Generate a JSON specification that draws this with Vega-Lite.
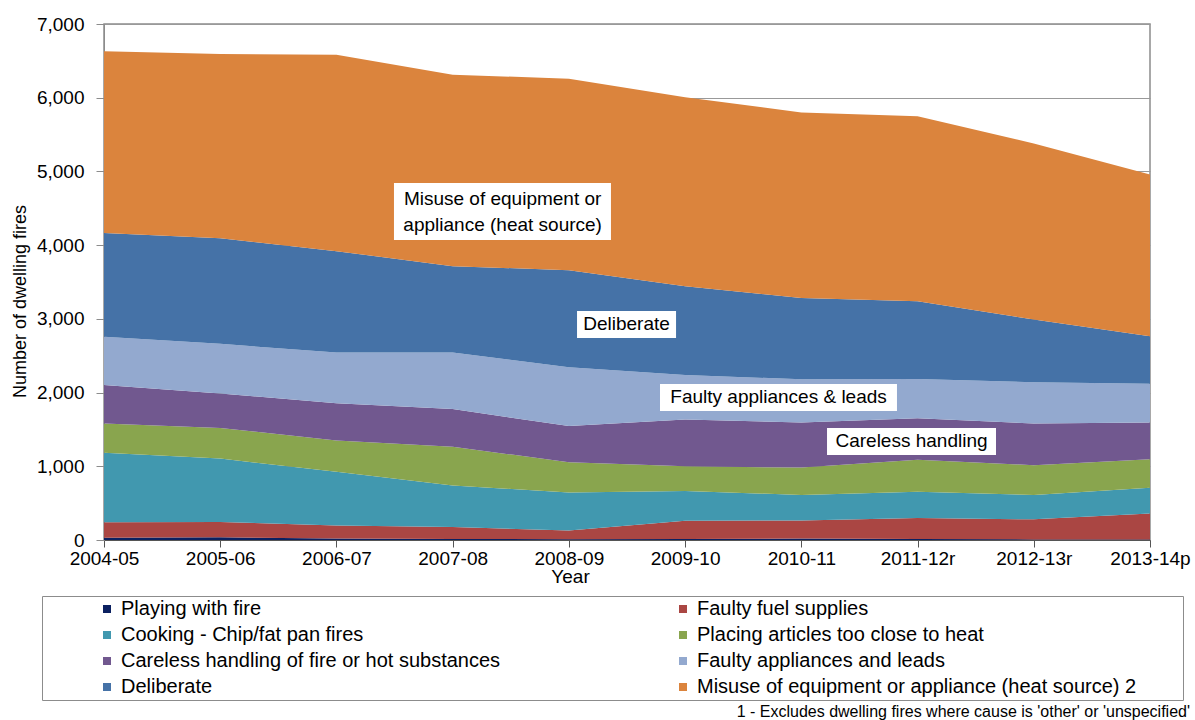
{
  "$schema": "https://vega.github.io/schema/vega-lite/v6.json",
  "autosize": "none",
  "width": 1046,
  "height": 516,
  "padding": {"left": 104, "top": 24, "right": 45, "bottom": 180},
  "background": "white",
  "config": {
    "font": "Liberation Sans",
    "view": {"stroke": "#8c8c8c", "strokeWidth": 1.5},
    "axis": {"labelFont": "Liberation Sans", "titleFont": "Liberation Sans", "labelColor": "#000", "titleColor": "#000", "titleFontWeight": "normal", "domainColor": "#8c8c8c", "tickColor": "#8c8c8c", "gridColor": "#999999", "gridOpacity": 1}
  },
  "title": {"text": "1 - Excludes dwelling fires where cause is 'other' or 'unspecified'", "orient": "bottom", "anchor": "end", "frame": "group", "fontSize": 16, "fontWeight": "normal", "font": "Liberation Sans", "color": "#000", "offset": 3, "dx": 40},
  "layer": [
    {
      "data": {"values": [
        {"yr": 2004, "cause": "Playing with fire", "k": 1, "n": 30},
        {"yr": 2004, "cause": "Faulty fuel supplies", "k": 2, "n": 211},
        {"yr": 2004, "cause": "Cooking - Chip/fat pan fires", "k": 3, "n": 944},
        {"yr": 2004, "cause": "Placing articles too close to heat", "k": 4, "n": 395},
        {"yr": 2004, "cause": "Careless handling of fire or hot substances", "k": 5, "n": 523},
        {"yr": 2004, "cause": "Faulty appliances and leads", "k": 6, "n": 654},
        {"yr": 2004, "cause": "Deliberate", "k": 7, "n": 1407},
        {"yr": 2004, "cause": "Misuse of equipment or appliance (heat source) 2", "k": 8, "n": 2466},
        {"yr": 2005, "cause": "Playing with fire", "k": 1, "n": 36},
        {"yr": 2005, "cause": "Faulty fuel supplies", "k": 2, "n": 209},
        {"yr": 2005, "cause": "Cooking - Chip/fat pan fires", "k": 3, "n": 859},
        {"yr": 2005, "cause": "Placing articles too close to heat", "k": 4, "n": 417},
        {"yr": 2005, "cause": "Careless handling of fire or hot substances", "k": 5, "n": 468},
        {"yr": 2005, "cause": "Faulty appliances and leads", "k": 6, "n": 672},
        {"yr": 2005, "cause": "Deliberate", "k": 7, "n": 1431},
        {"yr": 2005, "cause": "Misuse of equipment or appliance (heat source) 2", "k": 8, "n": 2502},
        {"yr": 2006, "cause": "Playing with fire", "k": 1, "n": 22},
        {"yr": 2006, "cause": "Faulty fuel supplies", "k": 2, "n": 176},
        {"yr": 2006, "cause": "Cooking - Chip/fat pan fires", "k": 3, "n": 727},
        {"yr": 2006, "cause": "Placing articles too close to heat", "k": 4, "n": 426},
        {"yr": 2006, "cause": "Careless handling of fire or hot substances", "k": 5, "n": 505},
        {"yr": 2006, "cause": "Faulty appliances and leads", "k": 6, "n": 686},
        {"yr": 2006, "cause": "Deliberate", "k": 7, "n": 1376},
        {"yr": 2006, "cause": "Misuse of equipment or appliance (heat source) 2", "k": 8, "n": 2666},
        {"yr": 2007, "cause": "Playing with fire", "k": 1, "n": 15},
        {"yr": 2007, "cause": "Faulty fuel supplies", "k": 2, "n": 160},
        {"yr": 2007, "cause": "Cooking - Chip/fat pan fires", "k": 3, "n": 565},
        {"yr": 2007, "cause": "Placing articles too close to heat", "k": 4, "n": 525},
        {"yr": 2007, "cause": "Careless handling of fire or hot substances", "k": 5, "n": 511},
        {"yr": 2007, "cause": "Faulty appliances and leads", "k": 6, "n": 769},
        {"yr": 2007, "cause": "Deliberate", "k": 7, "n": 1170},
        {"yr": 2007, "cause": "Misuse of equipment or appliance (heat source) 2", "k": 8, "n": 2598},
        {"yr": 2008, "cause": "Playing with fire", "k": 1, "n": 10},
        {"yr": 2008, "cause": "Faulty fuel supplies", "k": 2, "n": 120},
        {"yr": 2008, "cause": "Cooking - Chip/fat pan fires", "k": 3, "n": 515},
        {"yr": 2008, "cause": "Placing articles too close to heat", "k": 4, "n": 410},
        {"yr": 2008, "cause": "Careless handling of fire or hot substances", "k": 5, "n": 490},
        {"yr": 2008, "cause": "Faulty appliances and leads", "k": 6, "n": 800},
        {"yr": 2008, "cause": "Deliberate", "k": 7, "n": 1315},
        {"yr": 2008, "cause": "Misuse of equipment or appliance (heat source) 2", "k": 8, "n": 2598},
        {"yr": 2009, "cause": "Playing with fire", "k": 1, "n": 15},
        {"yr": 2009, "cause": "Faulty fuel supplies", "k": 2, "n": 245},
        {"yr": 2009, "cause": "Cooking - Chip/fat pan fires", "k": 3, "n": 405},
        {"yr": 2009, "cause": "Placing articles too close to heat", "k": 4, "n": 335},
        {"yr": 2009, "cause": "Careless handling of fire or hot substances", "k": 5, "n": 635},
        {"yr": 2009, "cause": "Faulty appliances and leads", "k": 6, "n": 605},
        {"yr": 2009, "cause": "Deliberate", "k": 7, "n": 1202},
        {"yr": 2009, "cause": "Misuse of equipment or appliance (heat source) 2", "k": 8, "n": 2566},
        {"yr": 2010, "cause": "Playing with fire", "k": 1, "n": 20},
        {"yr": 2010, "cause": "Faulty fuel supplies", "k": 2, "n": 245},
        {"yr": 2010, "cause": "Cooking - Chip/fat pan fires", "k": 3, "n": 347},
        {"yr": 2010, "cause": "Placing articles too close to heat", "k": 4, "n": 370},
        {"yr": 2010, "cause": "Careless handling of fire or hot substances", "k": 5, "n": 613},
        {"yr": 2010, "cause": "Faulty appliances and leads", "k": 6, "n": 585},
        {"yr": 2010, "cause": "Deliberate", "k": 7, "n": 1103},
        {"yr": 2010, "cause": "Misuse of equipment or appliance (heat source) 2", "k": 8, "n": 2517},
        {"yr": 2011, "cause": "Playing with fire", "k": 1, "n": 12},
        {"yr": 2011, "cause": "Faulty fuel supplies", "k": 2, "n": 288},
        {"yr": 2011, "cause": "Cooking - Chip/fat pan fires", "k": 3, "n": 354},
        {"yr": 2011, "cause": "Placing articles too close to heat", "k": 4, "n": 436},
        {"yr": 2011, "cause": "Careless handling of fire or hot substances", "k": 5, "n": 563},
        {"yr": 2011, "cause": "Faulty appliances and leads", "k": 6, "n": 531},
        {"yr": 2011, "cause": "Deliberate", "k": 7, "n": 1054},
        {"yr": 2011, "cause": "Misuse of equipment or appliance (heat source) 2", "k": 8, "n": 2510},
        {"yr": 2012, "cause": "Playing with fire", "k": 1, "n": 8},
        {"yr": 2012, "cause": "Faulty fuel supplies", "k": 2, "n": 272},
        {"yr": 2012, "cause": "Cooking - Chip/fat pan fires", "k": 3, "n": 330},
        {"yr": 2012, "cause": "Placing articles too close to heat", "k": 4, "n": 405},
        {"yr": 2012, "cause": "Careless handling of fire or hot substances", "k": 5, "n": 565},
        {"yr": 2012, "cause": "Faulty appliances and leads", "k": 6, "n": 560},
        {"yr": 2012, "cause": "Deliberate", "k": 7, "n": 850},
        {"yr": 2012, "cause": "Misuse of equipment or appliance (heat source) 2", "k": 8, "n": 2390},
        {"yr": 2013, "cause": "Playing with fire", "k": 1, "n": 8},
        {"yr": 2013, "cause": "Faulty fuel supplies", "k": 2, "n": 352},
        {"yr": 2013, "cause": "Cooking - Chip/fat pan fires", "k": 3, "n": 350},
        {"yr": 2013, "cause": "Placing articles too close to heat", "k": 4, "n": 385},
        {"yr": 2013, "cause": "Careless handling of fire or hot substances", "k": 5, "n": 500},
        {"yr": 2013, "cause": "Faulty appliances and leads", "k": 6, "n": 525},
        {"yr": 2013, "cause": "Deliberate", "k": 7, "n": 645},
        {"yr": 2013, "cause": "Misuse of equipment or appliance (heat source) 2", "k": 8, "n": 2195}
      ]},
      "mark": {"type": "area", "interpolate": "linear", "opacity": 1},
      "encoding": {
        "x": {"field": "yr", "type": "quantitative",
          "scale": {"domain": [2004, 2013], "nice": false, "zero": false},
          "axis": {"values": [2004, 2005, 2006, 2007, 2008, 2009, 2010, 2011, 2012, 2013],
            "labelExpr": "datum.value == 2011 ? '2011-12r' : datum.value == 2012 ? '2012-13r' : datum.value == 2013 ? '2013-14p' : datum.value + '-' + substring(toString(datum.value + 1), 2, 4)",
            "title": "Year", "titleFontSize": 19, "titleX": 466, "titleY": 36, "titleBaseline": "middle", "titleAlign": "center",
            "labelFontSize": 19, "labelPadding": 2, "tickSize": 7, "grid": false, "labelOverlap": false, "labelFlush": false,
            "domainColor": "#555555", "tickColor": "#555555"}},
        "y": {"field": "n", "type": "quantitative", "stack": "zero",
          "scale": {"domain": [0, 7000], "nice": false},
          "axis": {"values": [0, 1000, 2000, 3000, 4000, 5000, 6000, 7000],
            "labelExpr": "format(datum.value, ',')",
            "title": "Number of dwelling fires", "titleFontSize": 18, "titleX": -84, "titleY": 277, "titleBaseline": "middle", "titleAlign": "center",
            "labelFontSize": 19, "labelPadding": 12, "tickSize": 8, "grid": true}},
        "color": {"field": "cause", "type": "nominal",
          "scale": {
            "domain": ["Playing with fire", "Faulty fuel supplies", "Cooking - Chip/fat pan fires", "Placing articles too close to heat", "Careless handling of fire or hot substances", "Faulty appliances and leads", "Deliberate", "Misuse of equipment or appliance (heat source) 2"],
            "range": ["#0b2060", "#aa4643", "#4198af", "#89a54e", "#71588f", "#93a9cf", "#4572a7", "#db843d"]},
          "legend": {"title": "\u00a0", "titleOrient": "right", "titlePadding": 44, "titleFontSize": 10,
            "orient": "none", "legendX": -62, "legendY": 572, "columns": 2, "direction": "horizontal",
            "symbolType": "square", "symbolSize": 64, "symbolStrokeWidth": 0, "symbolOpacity": 1,
            "labelFontSize": 20, "labelFont": "Liberation Sans", "labelColor": "#000", "labelLimit": 800,
            "strokeColor": "#8c8c8c", "padding": 3, "rowPadding": 6, "columnPadding": 120,
            "symbolOffset": 52, "labelOffset": 4}},
        "order": {"field": "k", "type": "quantitative"}
      }
    },
    {
      "data": {"values": [
        {"yr": 2006.495, "yr2": 2008.362, "n": 4844, "n2": 4071},
        {"yr": 2008.07, "yr2": 2008.922, "n": 3107, "n2": 2741},
        {"yr": 2008.784, "yr2": 2010.823, "n": 2117, "n2": 1750},
        {"yr": 2010.221, "yr2": 2011.675, "n": 1520, "n2": 1153}
      ]},
      "mark": {"type": "rect", "color": "white"},
      "encoding": {
        "x": {"field": "yr", "type": "quantitative"},
        "x2": {"field": "yr2"},
        "y": {"field": "n", "type": "quantitative"},
        "y2": {"field": "n2"}
      }
    },
    {
      "data": {"values": [
        {"label": "Misuse of equipment or\nappliance (heat source)", "yr": 2007.43, "n": 4627},
        {"label": "Deliberate", "yr": 2008.496, "n": 2924},
        {"label": "Faulty appliances & leads", "yr": 2009.804, "n": 1934},
        {"label": "Careless handling", "yr": 2010.948, "n": 1337}
      ]},
      "mark": {"type": "text", "fontSize": 19, "font": "Liberation Sans", "color": "#000", "align": "center", "baseline": "middle", "lineBreak": "\n", "lineHeight": 26},
      "encoding": {
        "x": {"field": "yr", "type": "quantitative"},
        "y": {"field": "n", "type": "quantitative"},
        "text": {"field": "label"}
      }
    }
  ]
}
